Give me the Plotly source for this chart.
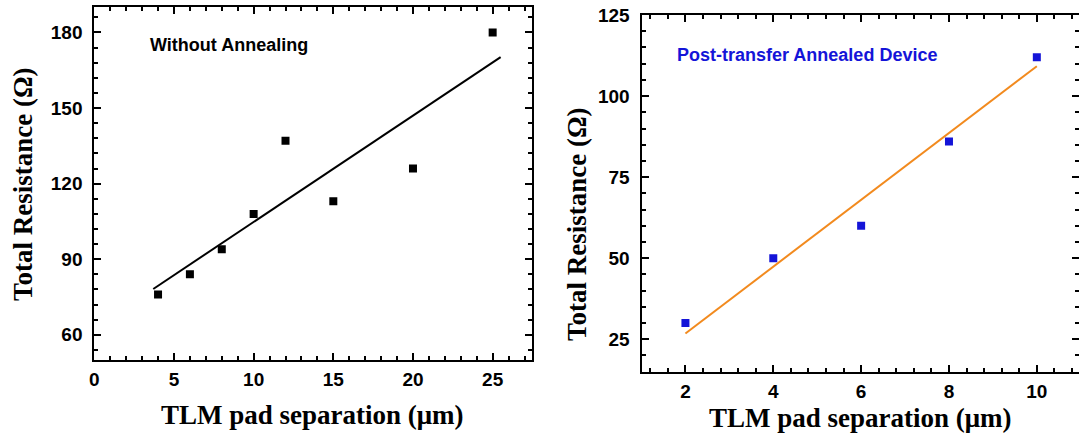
import plotly.graph_objects as go

# ---- Data ----
left_x = [4, 6, 8, 10, 12, 15, 20, 25]
left_y = [76, 84, 94, 108, 137, 113, 126, 180]
left_fit_x = [3.7, 25.5]
left_fit_y = [78.2, 170.2]

right_x = [2, 4, 6, 8, 10]
right_y = [30, 50, 60, 86, 112]
right_fit_x = [2, 10]
right_fit_y = [26.8, 109.2]

left_label = "Without Annealing"
right_label = "Post-transfer Annealed Device"
x_title = "TLM pad separation (\u03bcm)"
y_title = "Total Resistance (\u03a9)"

W, H = 1079, 443
BLUE = "#1414d8"
ORANGE = "#f28a1e"

fig = go.Figure()
fig.add_trace(go.Scatter(x=left_x, y=left_y, mode="markers",
                         marker=dict(symbol="square", size=8, color="black"),
                         xaxis="x", yaxis="y", showlegend=False))
fig.add_trace(go.Scatter(x=left_fit_x, y=left_fit_y, mode="lines",
                         line=dict(color="black", width=2),
                         xaxis="x", yaxis="y", showlegend=False))
fig.add_trace(go.Scatter(x=right_x, y=right_y, mode="markers",
                         marker=dict(symbol="square", size=8, color=BLUE),
                         xaxis="x2", yaxis="y2", showlegend=False))
fig.add_trace(go.Scatter(x=right_fit_x, y=right_fit_y, mode="lines",
                         line=dict(color=ORANGE, width=2),
                         xaxis="x2", yaxis="y2", showlegend=False))

tickfont = dict(family="Liberation Sans", size=19, color="black", weight="bold")

def ax(domain, rng, dtick, mdtick, anchor, standoff):
    return dict(domain=domain, range=rng, dtick=dtick, tick0=0,
                showline=True, linecolor="black", linewidth=2, mirror="ticks",
                ticks="inside", ticklen=7, tickwidth=2, tickcolor="black",
                minor=dict(dtick=mdtick, ticks="inside", ticklen=4, tickwidth=1.5, tickcolor="black"),
                showgrid=False, zeroline=False, tickfont=tickfont,
                ticklabelstandoff=standoff, anchor=anchor, automargin=False)

def px(x):
    return x / W

def py(y):
    return 1 - y / H

fig.update_layout(
    width=W, height=H,
    margin=dict(l=0, r=0, t=0, b=0),
    paper_bgcolor="white", plot_bgcolor="white",
    xaxis=ax([px(94.3), px(531.7)], [0, 27.45], 5, 1, "y", 1),
    yaxis=ax([py(360), py(7.3)], [50, 190], 30, 6, "x", 6),
    xaxis2=ax([px(641.5), 1.0], [1, 10.96], 2, 0.4, "y2", 1),
    yaxis2=ax([py(371.7), py(15)], [15, 125], 25, 5, "x2", 6),
)

title_font = dict(family="Liberation Serif", size=27, color="black", weight="bold")
ann_font = dict(family="Liberation Sans", size=18, weight="bold")
fig.add_annotation(text=x_title, x=px(312), y=py(415), xref="paper", yref="paper",
                   showarrow=False, font=title_font, xanchor="center", yanchor="middle")
fig.add_annotation(text=x_title, x=px(860), y=py(418), xref="paper", yref="paper",
                   showarrow=False, font=title_font, xanchor="center", yanchor="middle")
fig.add_annotation(text=y_title, x=px(23), y=py(184), xref="paper", yref="paper",
                   showarrow=False, font=title_font, textangle=-90, xanchor="center", yanchor="middle")
fig.add_annotation(text=y_title, x=px(577), y=py(224), xref="paper", yref="paper",
                   showarrow=False, font=title_font, textangle=-90, xanchor="center", yanchor="middle")
fig.add_annotation(text=left_label, x=px(148), y=py(45), xref="paper", yref="paper",
                   showarrow=False, font=dict(color="black", **ann_font), xanchor="left", yanchor="middle")
fig.add_annotation(text=right_label, x=px(675), y=py(55), xref="paper", yref="paper",
                   showarrow=False, font=dict(color=BLUE, **ann_font), xanchor="left", yanchor="middle")

fig.write_html("out.html", config={"displayModeBar": False},
               post_script="document.body.style.margin='0';document.body.style.overflow='hidden';")
